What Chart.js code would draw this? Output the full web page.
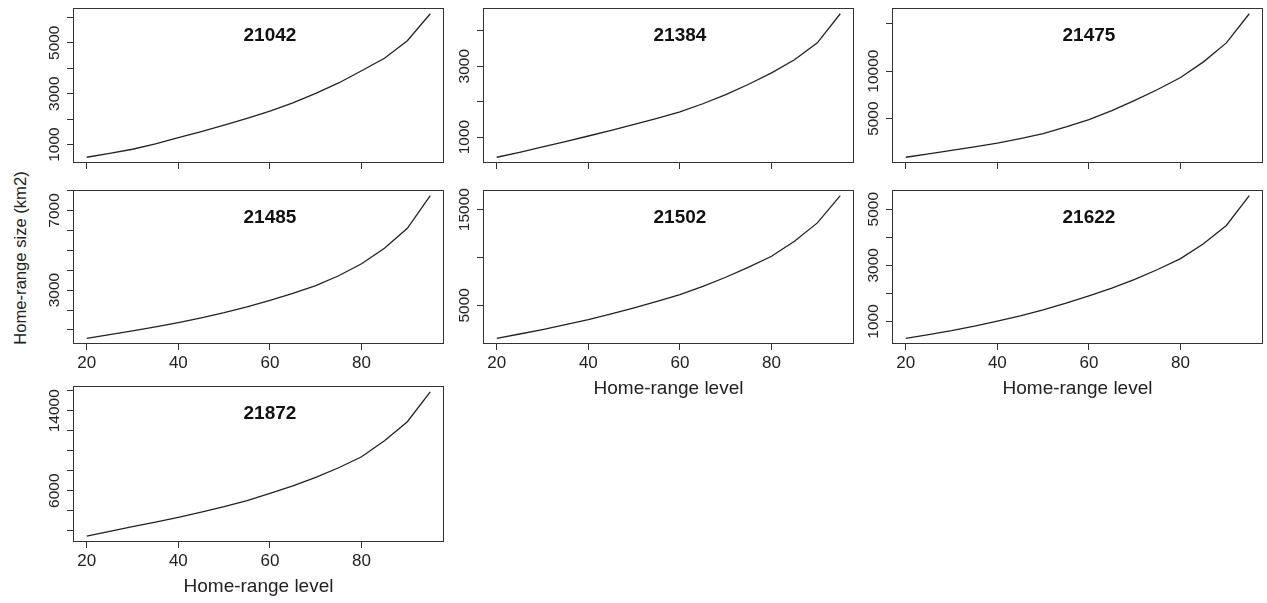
<!DOCTYPE html>
<html>
<head>
<meta charset="utf-8">
<script src="https://cdn.jsdelivr.net/npm/chart.js@4.4.4/dist/chart.umd.min.js"></script>
<style>
  html, body { margin: 0; padding: 0; background: #fff; }
  #fig { position: relative; width: 1267px; height: 603px; overflow: hidden; }
  #fig canvas { position: absolute; }
  #ytitle {
    position: absolute; left: 21px; top: 258px;
    transform: translate(-50%, -50%) rotate(-90deg);
    white-space: nowrap; color: #222;
    font: 16.6px "Liberation Sans", Arial, sans-serif;
  }
</style>
</head>
<body>
<div id="fig">
  <div id="ytitle">Home-range size (km2)</div>
</div>
<script>
// home-range level (%) on the x axis
const levels = [20, 25, 30, 35, 40, 45, 50, 55, 60, 65, 70, 75, 80, 85, 90, 95];
const xTicks = [20, 40, 60, 80];

// home-range size (km2) per animal
const hr21042 = [500, 650, 815, 1030, 1275, 1510, 1760, 2030, 2310, 2640, 3010, 3420, 3900, 4390, 5080, 6140];
const hr21384 = [430, 570, 720, 870, 1030, 1190, 1360, 1530, 1710, 1940, 2200, 2490, 2810, 3180, 3660, 4480];
const hr21475 = [930, 1280, 1650, 2020, 2420, 2900, 3420, 4120, 4890, 5850, 6930, 8070, 9330, 10980, 12980, 16050];
const hr21485 = [580, 760, 950, 1150, 1370, 1610, 1870, 2160, 2490, 2840, 3220, 3720, 4320, 5100, 6100, 7740];
const hr21502 = [1550, 2000, 2460, 2970, 3500, 4090, 4730, 5400, 6120, 6980, 7930, 8980, 10120, 11690, 13610, 16450];
const hr21622 = [400, 530, 670, 830, 1010, 1200, 1410, 1650, 1910, 2190, 2500, 2850, 3240, 3770, 4420, 5480];
const hr21872 = [1450, 1930, 2400, 2860, 3330, 3850, 4400, 5020, 5730, 6490, 7340, 8300, 9400, 11000, 12900, 15900];

// y tick marks and which of them carry a label (R drops overlapping ones)
const yTicks21042 = [1000, 2000, 3000, 4000, 5000, 6000];
const yLabels21042 = [1000, 3000, 5000];
const yTicks21384 = [1000, 2000, 3000, 4000];
const yLabels21384 = [1000, 3000];
const yTicks21475 = [5000, 10000, 15000];
const yLabels21475 = [5000, 10000];
const yTicks21485 = [1000, 2000, 3000, 4000, 5000, 6000, 7000, 8000];
const yLabels21485 = [3000, 7000];
const yTicks21502 = [5000, 10000, 15000];
const yLabels21502 = [5000, 15000];
const yTicks21622 = [1000, 2000, 3000, 4000, 5000];
const yLabels21622 = [1000, 3000, 5000];
const yTicks21872 = [2000, 4000, 6000, 8000, 10000, 12000, 14000, 16000];
const yLabels21872 = [6000, 14000];

const FONT = '"Liberation Sans", Arial, sans-serif';
const INK = '#222';
const AXIS = '#333';

// panel grid (plot box edges in page pixels)
const colLeft = [73, 483, 892];
const rowTop = [8, 190, 386];
const rowH = [155, 154, 156];
const BOX_W = 371;
const Y_AXIS_W = 70;
const X_AXIS_H = 56;

// R-style box, panel title and rotated y labels
const rBox = {
  id: 'rBox',
  afterDraw(chart, args, opts) {
    const { ctx, chartArea: a, scales } = chart;
    ctx.save();
    ctx.strokeStyle = AXIS;
    ctx.lineWidth = 1;
    ctx.strokeRect(a.left + 0.5, a.top + 0.5, a.right - a.left - 1, a.bottom - a.top - 1);

    ctx.fillStyle = '#111';
    ctx.font = 'bold 19px ' + FONT;
    ctx.textAlign = 'center';
    ctx.textBaseline = 'middle';
    ctx.fillText(opts.name, scales.x.getPixelForValue(60), a.top + 28);

    ctx.fillStyle = INK;
    ctx.font = '15.5px ' + FONT;
    opts.yLabels.forEach(function (v) {
      const y = scales.y.getPixelForValue(v);
      ctx.save();
      ctx.translate(a.left - 19, y);
      ctx.rotate(-Math.PI / 2);
      ctx.fillText(String(v), 0, 1);
      ctx.restore();
    });
    ctx.restore();
  }
};

function panel(name, values, yTicks, yLabels, col, row, showXLabels, showXTitle) {
  const lo = Math.min.apply(null, values);
  const hi = Math.max.apply(null, values);
  const ext = (hi - lo) * 0.04; // R's default axis extension

  const canvas = document.createElement('canvas');
  const w = Y_AXIS_W + BOX_W + 4;
  const h = 8 + rowH[row] + X_AXIS_H;
  canvas.width = w;
  canvas.height = h;
  canvas.style.width = w + 'px';
  canvas.style.height = h + 'px';
  canvas.style.left = (colLeft[col] - Y_AXIS_W) + 'px';
  canvas.style.top = (rowTop[row] - 8) + 'px';
  document.getElementById('fig').appendChild(canvas);

  const tickGrid = { drawOnChartArea: false, drawTicks: true, tickLength: 6, color: AXIS, lineWidth: 1 };

  new Chart(canvas, {
    type: 'line',
    data: {
      datasets: [{
        data: levels.map(function (x, i) { return { x: x, y: values[i] }; }),
        borderColor: INK,
        borderWidth: 1.3,
        pointRadius: 0,
        fill: false,
        tension: 0
      }]
    },
    options: {
      responsive: false,
      animation: false,
      devicePixelRatio: 1,
      layout: { padding: { top: 8, right: 4, left: 0, bottom: 0 } },
      plugins: {
        legend: { display: false },
        tooltip: { enabled: false },
        rBox: { name: name, yLabels: yLabels }
      },
      scales: {
        x: {
          type: 'linear',
          min: 17,
          max: 98,
          afterBuildTicks: function (s) { s.ticks = xTicks.map(function (v) { return { value: v }; }); },
          afterFit: function (s) { s.height = X_AXIS_H; },
          grid: tickGrid,
          border: { display: false },
          ticks: {
            display: showXLabels,
            autoSkip: false,
            maxRotation: 0,
            padding: 3,
            color: INK,
            font: { family: FONT, size: 17 }
          },
          title: {
            display: showXTitle,
            text: 'Home-range level',
            color: INK,
            padding: 0,
            font: { family: FONT, size: 19 }
          }
        },
        y: {
          type: 'linear',
          min: lo - ext,
          max: hi + ext,
          afterBuildTicks: function (s) { s.ticks = yTicks.map(function (v) { return { value: v }; }); },
          afterFit: function (s) { s.width = Y_AXIS_W; },
          grid: tickGrid,
          border: { display: false },
          ticks: { display: false }
        }
      }
    },
    plugins: [rBox]
  });
}

panel('21042', hr21042, yTicks21042, yLabels21042, 0, 0, false, false);
panel('21384', hr21384, yTicks21384, yLabels21384, 1, 0, false, false);
panel('21475', hr21475, yTicks21475, yLabels21475, 2, 0, false, false);
panel('21485', hr21485, yTicks21485, yLabels21485, 0, 1, true, false);
panel('21502', hr21502, yTicks21502, yLabels21502, 1, 1, true, true);
panel('21622', hr21622, yTicks21622, yLabels21622, 2, 1, true, true);
panel('21872', hr21872, yTicks21872, yLabels21872, 0, 2, true, true);
</script>
</body>
</html>
